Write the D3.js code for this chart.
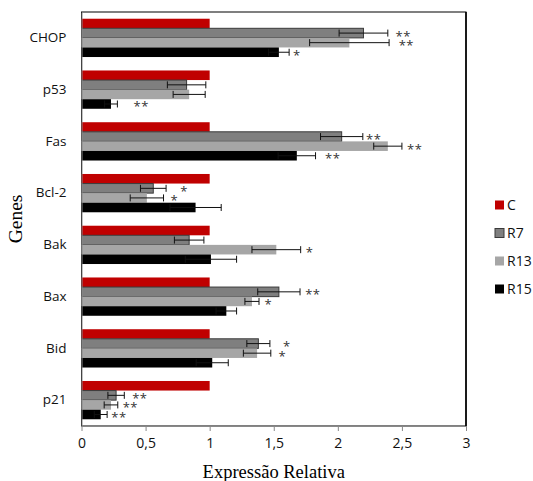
<!DOCTYPE html>
<html>
<head>
<meta charset="utf-8">
<script src="https://cdn.jsdelivr.net/npm/d3@7"></script>
<style>
  body { margin: 0; background: #fff; }
  svg { display: block; }
</style>
</head>
<body>
<svg id="chart" width="533" height="481"></svg>
<script>
// genes and series
const genes = ["CHOP", "p53", "Fas", "Bcl-2", "Bak", "Bax", "Bid", "p21"];
const series = ["C", "R7", "R13", "R15"];
const xTicks = [0, 0.5, 1, 1.5, 2, 2.5, 3];

// relative expression per series
const valuesC   = [1, 1, 1, 1, 1, 1, 1, 1];
const valuesR7  = [2.20, 0.82, 2.03, 0.56, 0.84, 1.54, 1.38, 0.27];
const valuesR13 = [2.09, 0.84, 2.39, 0.51, 1.52, 1.33, 1.37, 0.23];
const valuesR15 = [1.54, 0.23, 1.68, 0.89, 1.01, 1.13, 1.02, 0.15];

// error (+/-)
const errC   = [0, 0, 0, 0, 0, 0, 0, 0];
const errR7  = [0.19, 0.15, 0.165, 0.10, 0.115, 0.165, 0.09, 0.064];
const errR13 = [0.31, 0.125, 0.11, 0.13, 0.19, 0.055, 0.107, 0.053];
const errR15 = [0.08, 0.05, 0.146, 0.20, 0.20, 0.08, 0.125, 0.05];

// significance marks and where they sit (x, in relative expression units)
const sigC     = ["", "", "", "", "", "", "", ""];
const sigR7    = ["**", "", "**", "*", "", "**", "*", "**"];
const sigR13   = ["**", "", "**", "*", "*", "*", "*", "**"];
const sigR15   = ["*", "**", "**", "", "", "", "", "**"];
const sigAtC   = [0, 0, 0, 0, 0, 0, 0, 0];
const sigAtR7  = [2.45, 0, 2.22, 0.77, 0, 1.745, 1.573, 0.395];
const sigAtR13 = [2.475, 0, 2.54, 0.695, 1.75, 1.427, 1.538, 0.321];
const sigAtR15 = [1.65, 0.406, 1.90, 0, 0, 0, 0, 0.233];

const colors = {C: "#c00000", R7: "#7f7f7f", R13: "#a6a6a6", R15: "#000000"};
const strokes = {C: "none", R7: "#3a3a3a", R13: "none", R15: "none"};

const table = {
  C:   {v: valuesC,   e: errC,   s: sigC,   at: sigAtC},
  R7:  {v: valuesR7,  e: errR7,  s: sigR7,  at: sigAtR7},
  R13: {v: valuesR13, e: errR13, s: sigR13, at: sigAtR13},
  R15: {v: valuesR15, e: errR15, s: sigR15, at: sigAtR15}
};

const rows = [];
genes.forEach((g, i) => {
  series.forEach(s => {
    rows.push({gene: g, series: s, value: table[s].v[i], err: table[s].e[i],
               sig: table[s].s[i], sigAt: table[s].at[i]});
  });
});

const svg = d3.select("#chart");
const plotL = 81.5, plotR = 466, plotT = 12, plotB = 426;

const x = d3.scaleLinear().domain([0, 3]).range([plotL, plotR]);
const y = d3.scaleBand().domain(genes).range([plotT, plotB])
  .paddingInner(0.26).paddingOuter(0.13);
const yIn = d3.scaleBand().domain(series).range([0, y.bandwidth()]);

const sans = "'Open Sans', 'Noto Sans', sans-serif";
const serif = "'Liberation Serif', 'DejaVu Serif', serif";

// plot frame
svg.append("rect")
  .attr("x", plotL).attr("y", plotT)
  .attr("width", plotR - plotL).attr("height", plotB - plotT)
  .attr("fill", "none").attr("stroke", "#000").attr("stroke-width", 1);
svg.append("line")
  .attr("x1", plotR).attr("x2", plotR).attr("y1", plotT).attr("y2", plotB)
  .attr("stroke", "#000").attr("stroke-width", 1.6);

// bars
svg.append("g").selectAll("rect")
  .data(rows)
  .enter()
  .append("rect")
  .attr("x", x(0))
  .attr("y", d => y(d.gene) + yIn(d.series))
  .attr("width", d => x(d.value) - x(0))
  .attr("height", yIn.bandwidth())
  .attr("fill", d => colors[d.series])
  .attr("stroke", d => strokes[d.series])
  .attr("stroke-width", 1);

// error bars
const withErr = rows.filter(d => d.err > 0);
const eb = svg.append("g").attr("stroke", "#111").attr("stroke-width", 1);
withErr.forEach(d => {
  const cy = y(d.gene) + yIn(d.series) + yIn.bandwidth() / 2;
  const lo = x(d.value - d.err), hi = x(d.value + d.err);
  eb.append("line").attr("x1", lo).attr("x2", hi).attr("y1", cy).attr("y2", cy);
  eb.append("line").attr("x1", lo).attr("x2", lo).attr("y1", cy - 3.5).attr("y2", cy + 3.5);
  eb.append("line").attr("x1", hi).attr("x2", hi).attr("y1", cy - 3.5).attr("y2", cy + 3.5);
});

// significance stars
svg.append("g").selectAll("text")
  .data(rows.filter(d => d.sig))
  .enter()
  .append("text")
  .attr("x", d => x(d.sigAt))
  .attr("y", d => y(d.gene) + yIn(d.series) + yIn.bandwidth() / 2 + 7.5)
  .attr("font-family", sans)
  .attr("font-size", 13)
  .attr("letter-spacing", 0.5)
  .attr("fill", "#333")
  .text(d => d.sig);

// x axis
const xAxis = svg.append("g")
  .attr("transform", "translate(0," + plotB + ")")
  .call(d3.axisBottom(x).tickValues(xTicks).tickSize(5).tickSizeOuter(0)
    .tickFormat(d => String(d).replace(".", ",")));
xAxis.select(".domain").attr("stroke", "#888");
xAxis.selectAll(".tick line").attr("stroke", "#888");
xAxis.selectAll("text")
  .attr("font-family", sans).attr("font-size", 14).attr("fill", "#111")
  .attr("y", 12);

// y axis
const yAxis = svg.append("g")
  .attr("transform", "translate(" + plotL + ",0)")
  .call(d3.axisLeft(y).tickSize(0).tickPadding(15));
yAxis.select(".domain").attr("stroke", "#888");
yAxis.selectAll("text")
  .attr("font-family", sans).attr("font-size", 13.5).attr("fill", "#111");

// axis titles
svg.append("text")
  .attr("x", (plotL + plotR) / 2).attr("y", 478)
  .attr("text-anchor", "middle")
  .attr("font-family", serif).attr("font-size", 18.5)
  .text("Expressão Relativa");
svg.append("text")
  .attr("transform", "translate(22," + ((plotT + plotB) / 2) + ")rotate(-90)")
  .attr("text-anchor", "middle")
  .attr("font-family", serif).attr("font-size", 19.5)
  .text("Genes");

// legend
const legend = svg.append("g").selectAll("g")
  .data(series)
  .enter()
  .append("g")
  .attr("transform", (d, i) => "translate(495," + (205 + i * 28) + ")");
legend.append("rect")
  .attr("x", 0).attr("y", -4.5).attr("width", 9).attr("height", 9)
  .attr("fill", d => colors[d])
  .attr("stroke", d => strokes[d]).attr("stroke-width", 1);
legend.append("text")
  .attr("x", 12).attr("y", 5)
  .attr("font-family", sans).attr("font-size", 14).attr("fill", "#111")
  .text(d => d);
</script>
</body>
</html>
